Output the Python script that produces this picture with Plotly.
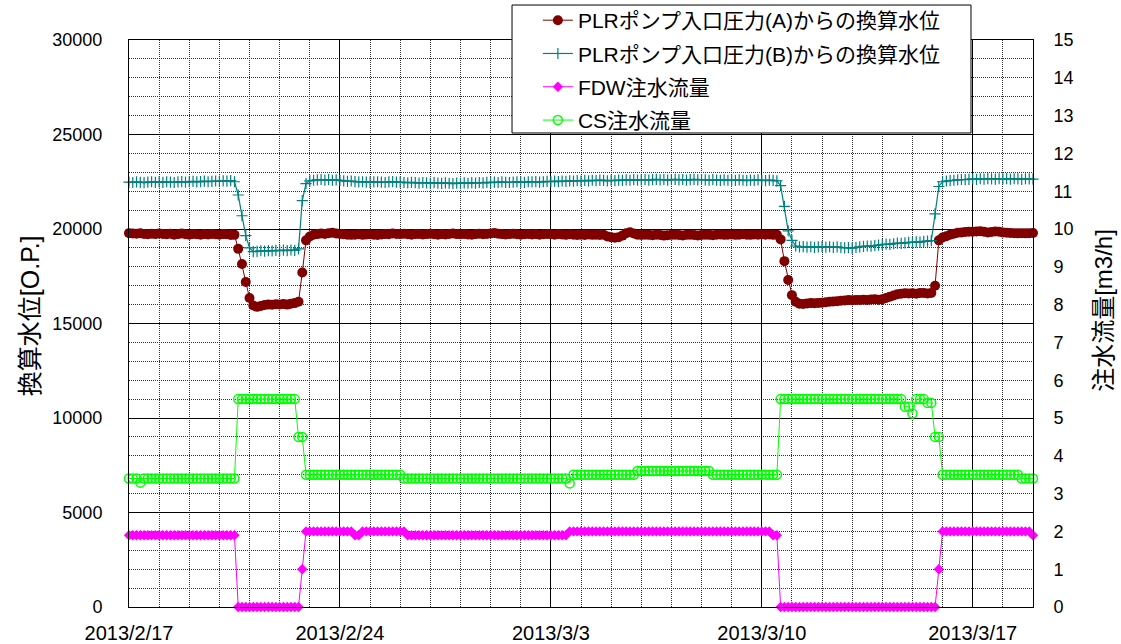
import pandas as pd
import plotly.graph_objects as go

# Sampling times: every 3 hours from 2013/2/17 00:00 to 2013/3/19 00:00
TIMES = pd.date_range("2013-02-17 00:00", periods=241, freq="3h")

# Converted water level from PLR pump inlet pressure (A) [O.P.], one row per day
LEVEL_A = [
    19780, 19760, 19750, 19770, 19740, 19720, 19750, 19730,
    19760, 19740, 19720, 19750, 19700, 19730, 19760, 19720,
    19700, 19740, 19720, 19700, 19730, 19710, 19740, 19720,
    19700, 19730, 19720, 19680, 19690, 18950, 18150, 17200,
    16350, 15950, 15880, 15930, 15980, 16000, 15990, 16020,
    16010, 16030, 16000, 16050, 16080, 16150, 17700, 19400,
    19600, 19700, 19730, 19760, 19740, 19780, 19800, 19760,
    19740, 19720, 19700, 19690, 19700, 19720, 19690, 19710,
    19720, 19700, 19680, 19710, 19730, 19720, 19760, 19740,
    19730, 19750, 19720, 19700, 19730, 19740, 19710, 19730,
    19750, 19720, 19700, 19730, 19710, 19740, 19760, 19730,
    19720, 19740, 19710, 19700, 19730, 19750, 19720, 19740,
    19760, 19790, 19750, 19730, 19710, 19730, 19750, 19720,
    19700, 19720, 19740, 19710, 19730, 19700, 19720, 19740,
    19720, 19700, 19730, 19710, 19690, 19720, 19700, 19680,
    19700, 19680, 19710, 19690, 19700, 19680, 19700, 19600,
    19560, 19540, 19570, 19650, 19780, 19830, 19760, 19700,
    19680, 19700, 19690, 19670, 19700, 19680, 19650, 19670,
    19690, 19700, 19680, 19660, 19690, 19700, 19680, 19660,
    19680, 19700, 19690, 19670, 19700, 19710, 19690, 19700,
    19710, 19690, 19700, 19720, 19700, 19690, 19710, 19700,
    19720, 19700, 19710, 19690, 19700, 19450, 18300, 17300,
    16500, 16150, 16050, 16030, 16060, 16080, 16070, 16090,
    16100, 16120, 16150, 16160, 16180, 16200, 16220, 16240,
    16230, 16250, 16240, 16260, 16250, 16270, 16280, 16260,
    16280, 16350, 16420, 16480, 16550, 16580, 16600, 16590,
    16600, 16580, 16620, 16610, 16590, 16620, 17000, 19400,
    19550, 19620, 19700, 19750, 19800, 19820, 19840, 19860,
    19850, 19870, 19880, 19850, 19820, 19840, 19870, 19850,
    19820, 19800, 19790, 19780, 19770, 19780, 19770, 19780,
    19790,
]

# Converted water level from PLR pump inlet pressure (B) [O.P.]
LEVEL_B = [
    22480, 22460, 22490, 22470, 22450, 22480, 22500, 22470,
    22490, 22470, 22500, 22480, 22460, 22490, 22510, 22480,
    22500, 22520, 22490, 22510, 22530, 22500, 22520, 22540,
    22520, 22550, 22530, 22560, 22500, 21800, 20700, 19650,
    19000, 18800, 18820, 18850, 18830, 18860, 18840, 18870,
    18850, 18880, 18860, 18890, 18870, 18950, 21500, 22400,
    22550, 22580, 22600, 22620, 22590, 22610, 22580, 22600,
    22570, 22550, 22520, 22540, 22510, 22490, 22500, 22480,
    22470, 22490, 22500, 22480, 22460, 22490, 22510, 22480,
    22480, 22460, 22440, 22470, 22450, 22430, 22460, 22440,
    22420, 22450, 22430, 22410, 22440, 22420, 22400, 22430,
    22410, 22440, 22420, 22450, 22430, 22460, 22440, 22470,
    22450, 22480, 22460, 22490, 22470, 22460, 22480, 22500,
    22480, 22470, 22500, 22490, 22510, 22480, 22500, 22520,
    22500, 22530, 22510, 22540, 22520, 22550, 22530, 22560,
    22540, 22570, 22550, 22580, 22560, 22590, 22570, 22550,
    22580, 22560, 22590, 22570, 22600, 22580, 22610, 22590,
    22600, 22620, 22590, 22610, 22630, 22600, 22620, 22590,
    22610, 22630, 22600, 22620, 22590, 22610, 22630, 22600,
    22620, 22600, 22580, 22610, 22590, 22570, 22600, 22580,
    22590, 22570, 22600, 22580, 22560, 22590, 22570, 22600,
    22580, 22560, 22590, 22570, 22550, 22300, 21200, 19900,
    19400, 19100, 19050, 19070, 19040, 19060, 19030, 19050,
    19070, 19040, 19060, 19030, 19050, 19020, 19000, 19010,
    18990, 19020, 19050, 19080, 19100, 19090, 19120, 19150,
    19180, 19200, 19190, 19220, 19250, 19240, 19270, 19290,
    19300, 19320, 19310, 19340, 19360, 19380, 20800, 22250,
    22500, 22540, 22560, 22580, 22600, 22620, 22610, 22630,
    22650, 22630, 22660, 22640, 22670, 22650, 22640, 22660,
    22650, 22670, 22640, 22660, 22650, 22630, 22660, 22650,
    22640,
]

# FDW injection flow [m3/h]
FDW_FLOW = [
    1.9, 1.9, 1.9, 1.9, 1.9, 1.9, 1.9, 1.9,
    1.9, 1.9, 1.9, 1.9, 1.9, 1.9, 1.9, 1.9,
    1.9, 1.9, 1.9, 1.9, 1.9, 1.9, 1.9, 1.9,
    1.9, 1.9, 1.9, 1.9, 1.9, 0.0, 0.0, 0.0,
    0.0, 0.0, 0.0, 0.0, 0.0, 0.0, 0.0, 0.0,
    0.0, 0.0, 0.0, 0.0, 0.0, 0.0, 1.0, 2.0,
    2.0, 2.0, 2.0, 2.0, 2.0, 2.0, 2.0, 2.0,
    2.0, 2.0, 2.0, 2.0, 1.9, 1.9, 2.0, 2.0,
    2.0, 2.0, 2.0, 2.0, 2.0, 2.0, 2.0, 2.0,
    2.0, 2.0, 1.9, 1.9, 1.9, 1.9, 1.9, 1.9,
    1.9, 1.9, 1.9, 1.9, 1.9, 1.9, 1.9, 1.9,
    1.9, 1.9, 1.9, 1.9, 1.9, 1.9, 1.9, 1.9,
    1.9, 1.9, 1.9, 1.9, 1.9, 1.9, 1.9, 1.9,
    1.9, 1.9, 1.9, 1.9, 1.9, 1.9, 1.9, 1.9,
    1.9, 1.9, 1.9, 1.9, 1.9, 2.0, 2.0, 2.0,
    2.0, 2.0, 2.0, 2.0, 2.0, 2.0, 2.0, 2.0,
    2.0, 2.0, 2.0, 2.0, 2.0, 2.0, 2.0, 2.0,
    2.0, 2.0, 2.0, 2.0, 2.0, 2.0, 2.0, 2.0,
    2.0, 2.0, 2.0, 2.0, 2.0, 2.0, 2.0, 2.0,
    2.0, 2.0, 2.0, 2.0, 2.0, 2.0, 2.0, 2.0,
    2.0, 2.0, 2.0, 2.0, 2.0, 2.0, 2.0, 2.0,
    2.0, 2.0, 2.0, 1.9, 1.9, 0.0, 0.0, 0.0,
    0.0, 0.0, 0.0, 0.0, 0.0, 0.0, 0.0, 0.0,
    0.0, 0.0, 0.0, 0.0, 0.0, 0.0, 0.0, 0.0,
    0.0, 0.0, 0.0, 0.0, 0.0, 0.0, 0.0, 0.0,
    0.0, 0.0, 0.0, 0.0, 0.0, 0.0, 0.0, 0.0,
    0.0, 0.0, 0.0, 0.0, 0.0, 0.0, 0.0, 1.0,
    2.0, 2.0, 2.0, 2.0, 2.0, 2.0, 2.0, 2.0,
    2.0, 2.0, 2.0, 2.0, 2.0, 2.0, 2.0, 2.0,
    2.0, 2.0, 2.0, 2.0, 2.0, 2.0, 2.0, 2.0,
    1.9,
]

# CS injection flow [m3/h]
CS_FLOW = [
    3.4, 3.4, 3.4, 3.29, 3.4, 3.4, 3.4, 3.4,
    3.4, 3.4, 3.4, 3.4, 3.4, 3.4, 3.4, 3.4,
    3.4, 3.4, 3.4, 3.4, 3.4, 3.4, 3.4, 3.4,
    3.4, 3.4, 3.4, 3.4, 3.4, 5.5, 5.5, 5.5,
    5.5, 5.5, 5.5, 5.5, 5.5, 5.5, 5.5, 5.5,
    5.5, 5.5, 5.5, 5.5, 5.5, 4.5, 4.5, 3.5,
    3.5, 3.5, 3.5, 3.5, 3.5, 3.5, 3.5, 3.5,
    3.5, 3.5, 3.5, 3.5, 3.5, 3.5, 3.5, 3.5,
    3.5, 3.5, 3.5, 3.5, 3.5, 3.5, 3.5, 3.5,
    3.5, 3.4, 3.4, 3.4, 3.4, 3.4, 3.4, 3.4,
    3.4, 3.4, 3.4, 3.4, 3.4, 3.4, 3.4, 3.4,
    3.4, 3.4, 3.4, 3.4, 3.4, 3.4, 3.4, 3.4,
    3.4, 3.4, 3.4, 3.4, 3.4, 3.4, 3.4, 3.4,
    3.4, 3.4, 3.4, 3.4, 3.4, 3.4, 3.4, 3.4,
    3.4, 3.4, 3.4, 3.4, 3.4, 3.27, 3.5, 3.5,
    3.5, 3.5, 3.5, 3.5, 3.5, 3.5, 3.5, 3.5,
    3.5, 3.5, 3.5, 3.5, 3.5, 3.5, 3.5, 3.6,
    3.6, 3.6, 3.6, 3.6, 3.6, 3.6, 3.6, 3.6,
    3.6, 3.6, 3.6, 3.6, 3.6, 3.6, 3.6, 3.6,
    3.6, 3.6, 3.6, 3.5, 3.5, 3.5, 3.5, 3.5,
    3.5, 3.5, 3.5, 3.5, 3.5, 3.5, 3.5, 3.5,
    3.5, 3.5, 3.5, 3.5, 3.5, 5.5, 5.5, 5.5,
    5.5, 5.5, 5.5, 5.5, 5.5, 5.5, 5.5, 5.5,
    5.5, 5.5, 5.5, 5.5, 5.5, 5.5, 5.5, 5.5,
    5.5, 5.5, 5.5, 5.5, 5.5, 5.5, 5.5, 5.5,
    5.5, 5.5, 5.5, 5.5, 5.5, 5.5, 5.3, 5.3,
    5.12, 5.5, 5.5, 5.5, 5.4, 5.4, 4.5, 4.5,
    3.5, 3.5, 3.5, 3.5, 3.5, 3.5, 3.5, 3.5,
    3.5, 3.5, 3.5, 3.5, 3.5, 3.5, 3.5, 3.5,
    3.5, 3.5, 3.5, 3.5, 3.5, 3.4, 3.4, 3.4,
    3.4,
]

# Weekly date ticks on the time axis
TICK_DATES = ["2013-02-17", "2013-02-24", "2013-03-03", "2013-03-10", "2013-03-17"]
TICK_LABELS = ["2013/2/17", "2013/2/24", "2013/3/3", "2013/3/10", "2013/3/17"]

FONT = "Liberation Sans, Noto Sans CJK JP, sans-serif"

fig = go.Figure()

fig.add_trace(go.Scatter(
    x=TIMES, y=LEVEL_A, mode="lines+markers",
    name="PLRポンプ入口圧力(A)からの換算水位", legendgroup="a",
    line=dict(color="#800000", width=1),
    marker=dict(symbol="circle", size=10, color="#800000"),
    cliponaxis=False,
))
fig.add_trace(go.Scatter(
    x=TIMES, y=LEVEL_B, mode="lines+markers",
    name="PLRポンプ入口圧力(B)からの換算水位", legendgroup="b",
    line=dict(color="#008080", width=1.2),
    marker=dict(symbol="cross-thin", size=8, color="#008080",
                line=dict(color="#008080", width=1.2)),
    cliponaxis=False,
))
fig.add_trace(go.Scatter(
    x=TIMES, y=FDW_FLOW, mode="lines+markers", yaxis="y2",
    name="FDW注水流量", legendgroup="c",
    line=dict(color="#FF00FF", width=1),
    marker=dict(symbol="diamond", size=8, color="#FF00FF"),
    cliponaxis=False,
))
fig.add_trace(go.Scatter(
    x=TIMES, y=CS_FLOW, mode="lines+markers", yaxis="y2",
    name="CS注水流量", legendgroup="d",
    line=dict(color="#00FF00", width=1),
    marker=dict(symbol="circle-open", size=9, color="#00FF00",
                line=dict(color="#00FF00", width=1.5)),
    cliponaxis=False,
))

DAY_MS = 86400000

fig.update_layout(
    width=1121, height=644,
    margin=dict(l=129, r=88, t=40, b=37, autoexpand=False),
    paper_bgcolor="white", plot_bgcolor="white",
    font=dict(family=FONT, size=18, color="black"),
    showlegend=True,
    legend=dict(
        x=0.4523, y=1.0705, xanchor="left", yanchor="top",
        bgcolor="rgba(0,0,0,0)", borderwidth=0,
        font=dict(family=FONT, size=21, color="black"),
        tracegroupgap=3,
    ),
    xaxis=dict(
        type="date", range=["2013-02-17", "2013-03-19"],
        tickmode="array", tickvals=TICK_DATES, ticktext=TICK_LABELS,
        tickfont=dict(size=20),
        showgrid=True, gridcolor="black", gridwidth=1,
        minor=dict(tickmode="linear", tick0="2013-02-17", dtick=DAY_MS,
                   showgrid=True, gridcolor="#333333", griddash="1px,1px",
                   gridwidth=1),
        showline=True, linecolor="black", linewidth=1, mirror=True,
        ticks="", ticklabelstandoff=8, zeroline=False,
    ),
    yaxis=dict(
        range=[0, 30000], tickmode="linear", tick0=0, dtick=5000,
        tickformat="d",
        showgrid=True, gridcolor="black", gridwidth=1,
        minor=dict(tickmode="linear", tick0=0, dtick=1000, showgrid=True,
                   gridcolor="#333333", griddash="1px,1px", gridwidth=1),
        showline=True, linecolor="black", linewidth=1, mirror=True,
        ticks="", ticklabelstandoff=22, zeroline=False,
    ),
    yaxis2=dict(
        range=[0, 15], tickmode="linear", tick0=0, dtick=1,
        overlaying="y", side="right", showgrid=False,
        showline=True, linecolor="black", linewidth=1,
        ticks="", ticklabelstandoff=16, zeroline=False,
    ),
    shapes=[dict(
        type="rect", xref="paper", yref="paper",
        x0=0.4237, x1=0.9314, y0=0.836, y1=1.0617,
        fillcolor="white", line=dict(color="black", width=1), layer="above",
    )],
    annotations=[
        dict(text="換算水位[O.P.]", xref="paper", yref="paper",
             x=-0.1095, y=0.513, xanchor="center", yanchor="middle",
             textangle=-90, showarrow=False, font=dict(family=FONT, size=25)),
        dict(text="注水流量[m3/h]", xref="paper", yref="paper",
             x=1.0785, y=0.524, xanchor="center", yanchor="middle",
             textangle=-90, showarrow=False, font=dict(family=FONT, size=24)),
    ],
)

fig.write_html("out.html")
